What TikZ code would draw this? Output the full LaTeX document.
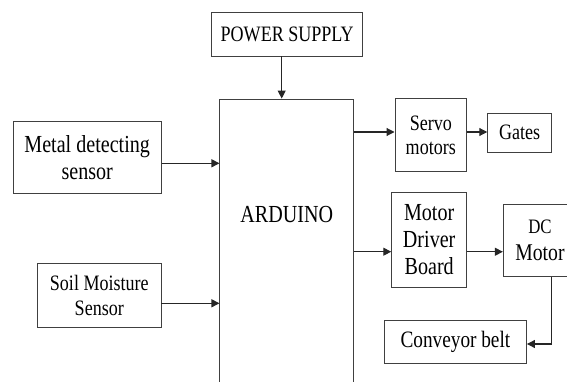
\documentclass[tikz,border=0pt]{standalone}
\usepackage{fontspec}
\setmainfont{Liberation Serif}[FakeStretch=0.82]
\usetikzlibrary{arrows.meta,positioning,calc}

\begin{document}
\begin{tikzpicture}[x=10pt, y=-10pt,
  block/.style={rectangle, draw=black!75, line width=0.9pt, inner sep=0pt, align=center, fill=white},
  conn/.style={draw=black!85, line width=1.1pt, -{Triangle[length=8pt, width=8pt]}},
  smalltext/.style={font=\rmfamily\fontsize{22}{24.5}\selectfont},
  largetext/.style={font=\rmfamily\fontsize{24.5}{27}\selectfont}
]
\useasboundingbox (0,0) rectangle (56.7,38.2);

%========== CONTROLLER AND SUPPLY ==========
\node[block, smalltext, minimum width=151pt, minimum height=43.3pt] (power) at (28.72,3.44) {POWER SUPPLY};
\node[block, minimum width=133.8pt, minimum height=301pt] (arduino) at (28.68,24.95) {};
\node[largetext] (ardlabel) at (28.68,21.47) {ARDUINO};

%========== INPUTS ==========
\node[block, largetext, minimum width=147.7pt, minimum height=71.6pt] (metal) at (8.72,15.75) {Metal detecting\\sensor};
\node[block, smalltext, minimum width=123.3pt, minimum height=64.4pt] (soil) at (9.93,29.55) {Soil Moisture\\Sensor};

%========== OUTPUTS ==========
\node[block, smalltext, minimum width=71.7pt, minimum height=72.7pt] (servo) at (43.08,13.53) {Servo\\motors};
\node[block, smalltext, minimum width=64pt, minimum height=39pt] (gates) at (51.97,13.28) {Gates};
\node[block, largetext, minimum width=75pt, minimum height=94.8pt] (driver) at (42.92,23.99) {Motor\\Driver\\Board};
\node[block, font=\rmfamily\fontsize{24}{26.5}\selectfont, minimum width=73.4pt, minimum height=72.5pt] (dcmotor) at (54.0,24.03)
  {{\fontsize{20.5}{24}\selectfont DC}\\Motor};
\node[block, font=\rmfamily\fontsize{23.5}{27}\selectfont, minimum width=142.2pt, minimum height=42.6pt] (conveyor) at (45.54,34.2) {Conveyor belt};

%========== CONNECTORS ==========
\draw[conn] ([xshift=-5.5pt]power.south) -- ([xshift=-5.5pt]power.south |- arduino.north);
\draw[conn] ([yshift=-5.8pt]metal.east) -- ([yshift=-5.8pt]metal.east -| arduino.west);
\draw[conn] ([yshift=-7.8pt]soil.east) -- ([yshift=-7.8pt]soil.east -| arduino.west);
\draw[conn] ([yshift=3.3pt]servo.west -| arduino.east) -- ([yshift=3.3pt]servo.west);
\draw[conn] ([yshift=0.8pt]gates.west -| servo.east) -- ([yshift=0.8pt]gates.west);
\draw[conn] ([yshift=-11.8pt]driver.west -| arduino.east) -- ([yshift=-11.8pt]driver.west);
\draw[conn] ([yshift=-11.45pt]dcmotor.west -| driver.east) -- ([yshift=-11.45pt]dcmotor.west);
\draw[conn] ([xshift=11.7pt]dcmotor.south) |- ([yshift=-2pt]conveyor.east);

\end{tikzpicture}
\end{document}
